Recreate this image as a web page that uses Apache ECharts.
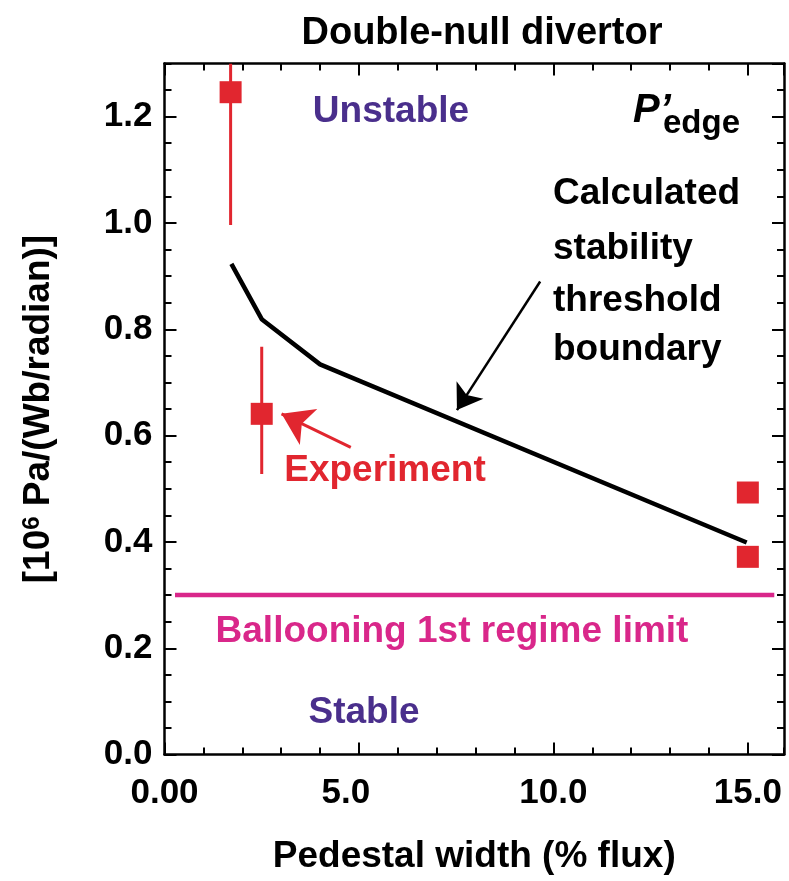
<!DOCTYPE html>
<html>
<head>
<meta charset="utf-8">
<title>Double-null divertor</title>
<script src="https://cdn.jsdelivr.net/npm/echarts@6/dist/echarts.min.js"></script>
<style>
    html, body { margin: 0; padding: 0; background: #fff; }
    #main { width: 789px; height: 881px; }
</style>
</head>
<body>
<div id="main"></div>
<script>
// 计算的稳定性阈值边界
var calcX = [1.72, 2.5, 4.0, 14.97];
var calcY = [0.923, 0.819, 0.734, 0.399];
// 实验点
var expX = [1.7, 2.5, 15.0, 15.0];
var expY = [1.246, 0.641, 0.493, 0.372];
var errLow = [0.996, 0.528, null, null];
var errHigh = [1.3, 0.767, null, null];
// 气球模第一稳定区极限
var ballooningX = [0.27, 15.68];
var ballooningY = [0.3, 0.3];
// 刻度
var xTicks = [0, 5, 10, 15];
var xTickLabels = ['0.00', '5.0', '10.0', '15.0'];
var yTicks = [0, 0.2, 0.4, 0.6, 0.8, 1.0, 1.2];
var yTickLabels = ['0.0', '0.2', '0.4', '0.6', '0.8', '1.0', '1.2'];

(function () {
    // 看看有没有窄体字
    function hasFont(name) {
        var c = document.createElement('canvas').getContext('2d');
        var s = 'Pedestal width 0123456789';
        c.font = 'bold 40px monospace';
        var w0 = c.measureText(s).width;
        c.font = 'bold 40px "' + name + '", monospace';
        return c.measureText(s).width !== w0;
    }
    var narrow = hasFont('Liberation Sans Narrow');
    var FONT = narrow ? '"Liberation Sans Narrow", "Liberation Sans", sans-serif' : '"Liberation Sans", Arial, sans-serif';
    var K = narrow ? 1.2 : 1;

    var RED = '#e1262f';
    var PURPLE = '#4a2f8c';
    var MAGENTA = '#d9278a';

    function lookup(ticks, labels, v) {
        for (var i = 0; i < ticks.length; i++) {
            if (Math.abs(ticks[i] - v) < 1e-6) return labels[i];
        }
        return '';
    }

    var XMAX = 15.93, YMAX = 1.3;

    // 坐标轴: 主刻度 + 次刻度, 四条边都有
    function xAx(pos, interval, len, showLine, showLabel) {
        return {
            type: 'value', position: pos, min: 0, max: XMAX, interval: interval,
            axisLine: { show: showLine, onZero: false, lineStyle: { color: '#000', width: 2.5 } },
            axisTick: { show: true, inside: true, length: len, lineStyle: { color: '#000', width: 2 } },
            axisLabel: {
                show: showLabel, margin: 21, showMaxLabel: false,
                fontSize: 35 * K, fontWeight: 'bold', fontFamily: FONT, color: '#000',
                formatter: function (v) {
                    var t = lookup(xTicks, xTickLabels, v);
                    // 5.0 在原图里偏左一点
                    return t === '5.0' ? '{s|' + t + '}' : t;
                },
                rich: { s: { fontSize: 35 * K, fontWeight: 'bold', fontFamily: FONT, color: '#000', padding: [0, 26, 0, 0] } }
            },
            splitLine: { show: false }
        };
    }
    function yAx(pos, interval, len, showLine, showLabel) {
        return {
            type: 'value', position: pos, min: 0, max: YMAX, interval: interval,
            axisLine: { show: showLine, onZero: false, lineStyle: { color: '#000', width: 2.5 } },
            axisTick: { show: true, inside: true, length: len, lineStyle: { color: '#000', width: 2 } },
            axisLabel: {
                show: showLabel, margin: 12, showMaxLabel: false,
                fontSize: 35 * K, fontWeight: 'bold', fontFamily: FONT, color: '#000',
                formatter: function (v) { return lookup(yTicks, yTickLabels, v); }
            },
            splitLine: { show: false }
        };
    }

    var xMain = xAx('bottom', 5, 12, true, true);
    xMain.name = 'Pedestal width (% flux)';
    xMain.nameLocation = 'middle';
    xMain.nameGap = 84;
    xMain.nameTextStyle = { fontSize: 37 * K, fontWeight: 'bold', fontFamily: FONT, color: '#000' };

    var yMain = yAx('left', 0.2, 12, true, true);
    yMain.name = '[10{sup|6} Pa/(Wb/radian)]';
    yMain.nameLocation = 'middle';
    yMain.nameGap = 107;
    yMain.nameRotate = 90;
    yMain.nameTextStyle = {
        fontSize: 37 * K, fontWeight: 'bold', fontFamily: FONT, color: '#000',
        rich: { sup: { fontSize: 24 * K, fontWeight: 'bold', fontFamily: FONT, color: '#000', verticalAlign: 'top' } }
    };

    var pts = [], errs = [], line = [], balloon = [];
    for (var i = 0; i < expX.length; i++) {
        pts.push([expX[i], expY[i]]);
        if (errLow[i] != null) errs.push([expX[i], errLow[i], errHigh[i]]);
    }
    for (var j = 0; j < calcX.length; j++) line.push([calcX[j], calcY[j]]);
    for (var k = 0; k < ballooningX.length; k++) balloon.push([ballooningX[k], ballooningY[k]]);

    var txt = function (text, x, y, color, size, align, style) {
        return {
            type: 'text', x: x, y: y, z: 10,
            style: {
                text: text, fill: color, align: align || 'center', verticalAlign: 'middle',
                font: (style || 'normal') + ' bold ' + (size * K) + 'px ' + FONT
            }
        };
    };

    var myChart = echarts.init(document.getElementById('main'));
    var option = {
        animation: false,
        backgroundColor: '#fff',
        title: {
            text: 'Double-null divertor',
            left: 477, top: 10, textAlign: 'center',
            textStyle: { fontSize: 38 * K, fontWeight: 'bold', fontFamily: FONT, color: '#000' }
        },
        grid: { left: 164.5, right: 5, top: 63.5, bottom: 126.4 },
        xAxis: [
            xMain,
            xAx('bottom', 1, 7, false, false),
            xAx('top', 5, 12, true, false),
            xAx('top', 1, 7, false, false)
        ],
        yAxis: [
            yMain,
            yAx('left', 0.05, 7, false, false),
            yAx('right', 0.2, 12, true, false),
            yAx('right', 0.05, 7, false, false)
        ],
        graphic: [
            txt('Unstable', 391, 112, PURPLE, 37),
            txt('Stable', 364, 713, PURPLE, 37),
            txt('Experiment', 385, 471, RED, 37),
            txt('Ballooning 1st regime limit', 452, 632, MAGENTA, 37),
            txt('Calculated', 553, 194, '#000', 37, 'left'),
            txt('stability', 553, 249, '#000', 37, 'left'),
            txt('threshold', 553, 301, '#000', 37, 'left'),
            txt('boundary', 553, 350, '#000', 37, 'left'),
            txt('P\u2019', 633, 111, '#000', 40, 'left', 'italic'),
            txt('edge', 663, 124, '#000', 33, 'left')
        ],
        series: [
            {
                name: 'Ballooning 1st regime limit',
                type: 'line',
                data: balloon,
                symbol: 'none',
                lineStyle: { color: MAGENTA, width: 4.5 },
                z: 2
            },
            {
                name: 'Calculated stability threshold boundary',
                type: 'line',
                data: line,
                symbol: 'none',
                lineStyle: { color: '#000', width: 4.5 },
                z: 3,
                // 指向边界的箭头
                markLine: {
                    silent: true,
                    symbol: ['none', 'arrow'],
                    symbolSize: 24,
                    label: { show: false },
                    lineStyle: { color: '#000', width: 2.5, type: 'solid' },
                    data: [[{ coord: [9.66, 0.89] }, { coord: [7.52, 0.648] }]]
                }
            },
            {
                name: 'Error',
                type: 'custom',
                clip: true,
                z: 3,
                renderItem: function (params, api) {
                    var p1 = api.coord([api.value(0), api.value(1)]);
                    var p2 = api.coord([api.value(0), api.value(2)]);
                    return {
                        type: 'line',
                        shape: { x1: p1[0], y1: p1[1], x2: p2[0], y2: p2[1] },
                        style: { stroke: RED, lineWidth: 3 }
                    };
                },
                data: errs
            },
            {
                name: 'Experiment',
                type: 'scatter',
                data: pts,
                symbol: 'rect',
                symbolSize: 22,
                itemStyle: { color: RED, opacity: 1 },
                z: 4,
                markLine: {
                    silent: true,
                    symbol: ['none', 'arrow'],
                    symbolSize: 30,
                    label: { show: false },
                    lineStyle: { color: RED, width: 3, type: 'solid' },
                    data: [[{ coord: [4.79, 0.578] }, { coord: [3.01, 0.641] }]]
                }
            }
        ]
    };
    myChart.setOption(option);
    window.addEventListener('resize', function () {
        myChart.resize();
    });
})();
</script>
</body>
</html>
